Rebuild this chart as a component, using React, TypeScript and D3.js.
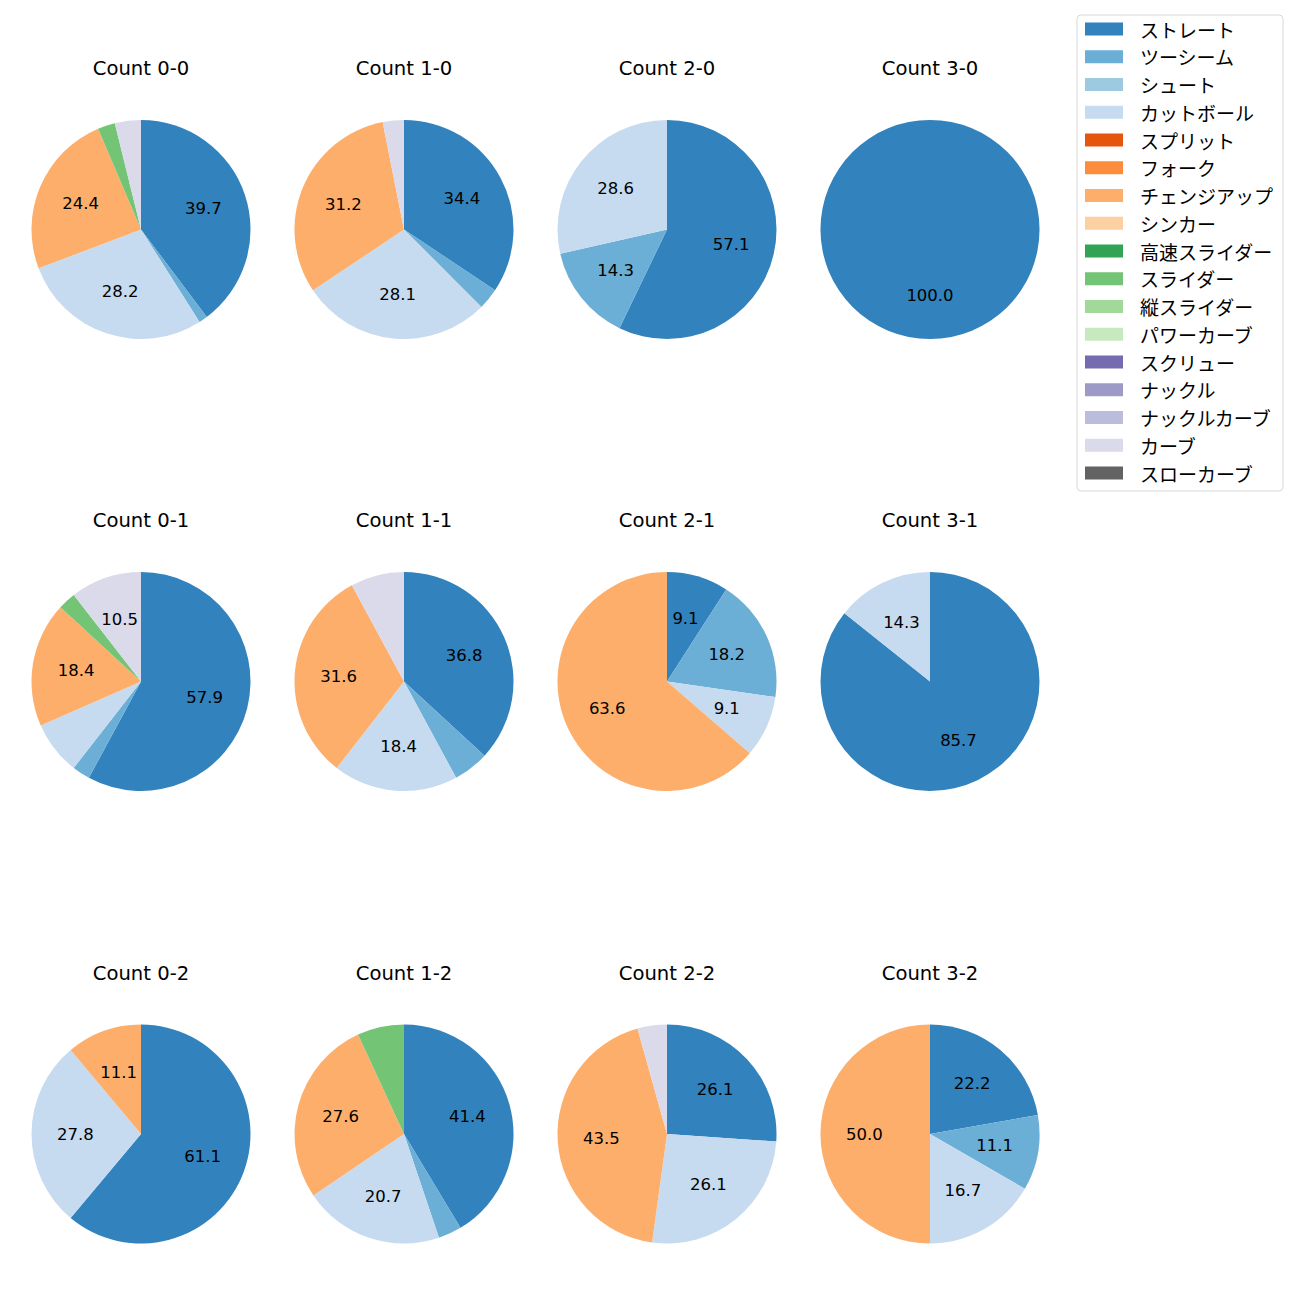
import React from "react";
import * as d3 from "d3";

const pitchTypes = ["ストレート","ツーシーム","シュート","カットボール","スプリット","フォーク","チェンジアップ","シンカー","高速スライダー","スライダー","縦スライダー","パワーカーブ","スクリュー","ナックル","ナックルカーブ","カーブ","スローカーブ"];
const pitchColors = ["#3182bd","#6baed6","#9ecae1","#c6dbef","#e6550d","#fd8d3c","#fdae6b","#fdd0a2","#31a354","#74c476","#a1d99b","#c7e9c0","#756bb1","#9e9ac8","#bcbddc","#dadaeb","#636363"];

const countTitles = ["Count 0-0","Count 1-0","Count 2-0","Count 3-0","Count 0-1","Count 1-1","Count 2-1","Count 3-1","Count 0-2","Count 1-2","Count 2-2","Count 3-2"];

const c00 = [31,1,0,22,0,0,19,0,0,2,0,0,0,0,0,3,0];
const c10 = [11,1,0,9,0,0,10,0,0,0,0,0,0,0,0,1,0];
const c20 = [4,1,0,2,0,0,0,0,0,0,0,0,0,0,0,0,0];
const c30 = [1,0,0,0,0,0,0,0,0,0,0,0,0,0,0,0,0];
const c01 = [22,1,0,3,0,0,7,0,0,1,0,0,0,0,0,4,0];
const c11 = [14,2,0,7,0,0,12,0,0,0,0,0,0,0,0,3,0];
const c21 = [1,2,0,1,0,0,7,0,0,0,0,0,0,0,0,0,0];
const c31 = [6,0,0,1,0,0,0,0,0,0,0,0,0,0,0,0,0];
const c02 = [11,0,0,5,0,0,2,0,0,0,0,0,0,0,0,0,0];
const c12 = [12,1,0,6,0,0,8,0,0,2,0,0,0,0,0,0,0];
const c22 = [6,0,0,6,0,0,10,0,0,0,0,0,0,0,0,1,0];
const c32 = [4,2,0,3,0,0,9,0,0,0,0,0,0,0,0,0,0];

const countValues = [c00,c10,c20,c30,c01,c11,c21,c31,c02,c12,c22,c32];

const LATIN = "'DejaVu Sans', 'Noto Sans CJK JP', sans-serif";
const JP = "'Noto Sans CJK JP', sans-serif";

// Python-style "%.1f" (round half to even on exact halves)
function fmt1(x: number): string {
  const v = x * 10;
  const fl = Math.floor(v);
  if (Math.abs(v - fl - 0.5) < 1e-9) {
    const r = fl % 2 === 0 ? fl : fl + 1;
    return (r / 10).toFixed(1);
  }
  return x.toFixed(1);
}

export default function App() {
  const W = 1300, H = 1300;
  const colX = [141, 404, 667, 930];
  const rowY = [229.5, 681.5, 1134];
  const R = 109.5;
  const pie = d3.pie<number>().value(d => d).sort(null).startAngle(0).endAngle(2 * Math.PI);
  const arc = d3.arc<d3.PieArcDatum<number>>().innerRadius(0).outerRadius(R);

  const legendX = 1077, legendY = 15, legendW = 206, legendH = 476;
  const legendStep = 27.75;

  return (
    <svg width={W} height={H} style={{ display: "block", position: "absolute", left: 0, top: 0, background: "#fff" }}>
      {countValues.map((vals, i) => {
        const cx = colX[i % 4];
        const cy = rowY[Math.floor(i / 4)];
        const total = d3.sum(vals);
        const arcs = pie(vals);
        return (
          <g key={i}>
            <text x={cx} y={cy - 161} textAnchor="middle" dominantBaseline="central" fontFamily={LATIN} fontSize={19.6} fill="#000">{countTitles[i]}</text>
            <g transform={`translate(${cx},${cy})`}>
              {arcs.filter(a => a.value > 0).map((a, j) => (
                <path key={j} d={arc(a) || ""} fill={pitchColors[a.index]} />
              ))}
              {arcs.filter(a => a.value > 0 && (a.value / total) * 100 >= 9).map((a, j) => {
                const mid = (a.startAngle + a.endAngle) / 2;
                const r = R * 0.6;
                const x = Math.sin(mid) * r;
                const y = -Math.cos(mid) * r;
                return (
                  <text key={"t" + j} x={x} y={y} textAnchor="middle" dominantBaseline="central" fontFamily={LATIN} fontSize={16.5} fill="#000">
                    {fmt1((a.value / total) * 100)}
                  </text>
                );
              })}
            </g>
          </g>
        );
      })}
      <rect x={legendX} y={legendY} width={legendW} height={legendH} rx={4} fill="#fff" stroke="#d9d9d9" strokeWidth={1} />
      {pitchTypes.map((p, i) => {
        const y = legendY + 14 + i * legendStep;
        return (
          <g key={p}>
            <rect x={legendX + 8} y={y - 6.5} width={38} height={13} fill={pitchColors[i]} />
            <text x={legendX + 63} y={y} dominantBaseline="central" fontFamily={JP} fontSize={19} fill="#000">{p}</text>
          </g>
        );
      })}
    </svg>
  );
}
